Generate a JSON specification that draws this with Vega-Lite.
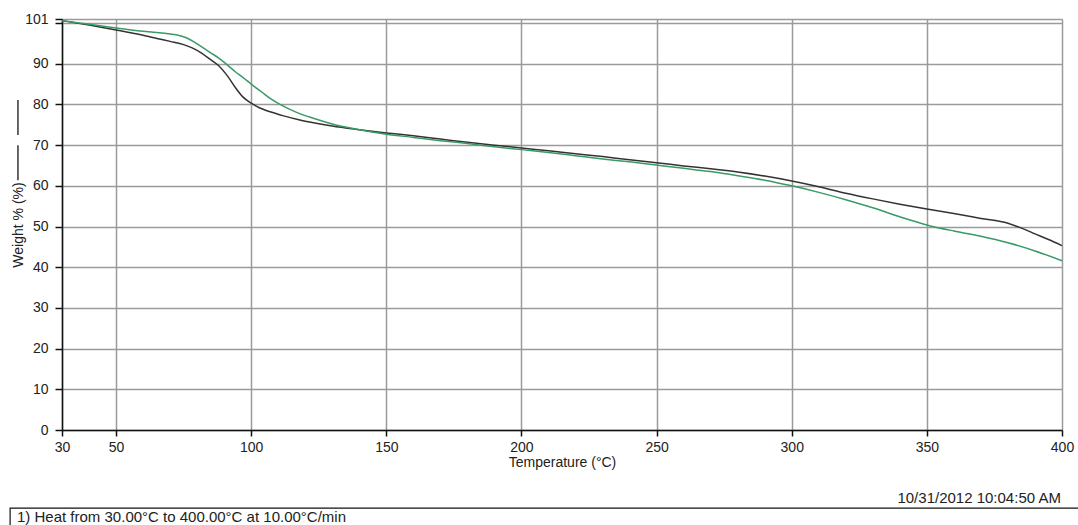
{
  "$schema": "https://vega.github.io/schema/vega-lite/v6.json",
  "width": 1000,
  "height": 411,
  "autosize": {"type": "none"},
  "padding": {"left": 62, "top": 19, "right": 16, "bottom": 95},
  "background": "white",
  "config": {
    "view": {"stroke": null},
    "font": "Liberation Sans",
    "axis": {
      "labelFont": "Liberation Sans",
      "titleFont": "Liberation Sans",
      "labelFontSize": 14,
      "titleFontSize": 14,
      "titleFontWeight": "normal",
      "labelColor": "#222",
      "titleColor": "#222",
      "gridColor": "#9a9a9a",
      "gridWidth": 1.5,
      "gridOpacity": 1,
      "domainColor": "#111",
      "domainWidth": 1.5,
      "tickColor": "#111",
      "tickWidth": 1.5,
      "labelOverlap": false
    }
  },
  "datasets": {
    "curves": [
      {"sample": "A", "temperature": 30, "weight": 100.6},
      {"sample": "A", "temperature": 40, "weight": 99.5},
      {"sample": "A", "temperature": 50, "weight": 98.3},
      {"sample": "A", "temperature": 60, "weight": 97.0},
      {"sample": "A", "temperature": 66, "weight": 96.1},
      {"sample": "A", "temperature": 70, "weight": 95.5},
      {"sample": "A", "temperature": 75, "weight": 94.7},
      {"sample": "A", "temperature": 80, "weight": 93.3},
      {"sample": "A", "temperature": 85, "weight": 91.0},
      {"sample": "A", "temperature": 88, "weight": 89.5},
      {"sample": "A", "temperature": 91, "weight": 87.2},
      {"sample": "A", "temperature": 94, "weight": 84.3},
      {"sample": "A", "temperature": 97, "weight": 81.8},
      {"sample": "A", "temperature": 100, "weight": 80.3},
      {"sample": "A", "temperature": 103, "weight": 79.2},
      {"sample": "A", "temperature": 107, "weight": 78.2},
      {"sample": "A", "temperature": 112, "weight": 77.2},
      {"sample": "A", "temperature": 118, "weight": 76.2},
      {"sample": "A", "temperature": 124, "weight": 75.4},
      {"sample": "A", "temperature": 130, "weight": 74.7},
      {"sample": "A", "temperature": 140, "weight": 73.8},
      {"sample": "A", "temperature": 150, "weight": 73.0},
      {"sample": "A", "temperature": 160, "weight": 72.3},
      {"sample": "A", "temperature": 170, "weight": 71.5},
      {"sample": "A", "temperature": 180, "weight": 70.7},
      {"sample": "A", "temperature": 190, "weight": 70.0},
      {"sample": "A", "temperature": 200, "weight": 69.3},
      {"sample": "A", "temperature": 210, "weight": 68.6},
      {"sample": "A", "temperature": 220, "weight": 67.9},
      {"sample": "A", "temperature": 230, "weight": 67.2},
      {"sample": "A", "temperature": 240, "weight": 66.4},
      {"sample": "A", "temperature": 250, "weight": 65.7},
      {"sample": "A", "temperature": 260, "weight": 64.9},
      {"sample": "A", "temperature": 270, "weight": 64.2},
      {"sample": "A", "temperature": 280, "weight": 63.4},
      {"sample": "A", "temperature": 290, "weight": 62.4},
      {"sample": "A", "temperature": 300, "weight": 61.2},
      {"sample": "A", "temperature": 310, "weight": 59.8},
      {"sample": "A", "temperature": 320, "weight": 58.2},
      {"sample": "A", "temperature": 330, "weight": 56.8},
      {"sample": "A", "temperature": 340, "weight": 55.5},
      {"sample": "A", "temperature": 350, "weight": 54.3},
      {"sample": "A", "temperature": 360, "weight": 53.2},
      {"sample": "A", "temperature": 370, "weight": 52.0},
      {"sample": "A", "temperature": 380, "weight": 50.8},
      {"sample": "A", "temperature": 385, "weight": 49.6},
      {"sample": "A", "temperature": 390, "weight": 48.2},
      {"sample": "A", "temperature": 395, "weight": 46.8},
      {"sample": "A", "temperature": 400, "weight": 45.3},
      {"sample": "B", "temperature": 30, "weight": 100.6},
      {"sample": "B", "temperature": 40, "weight": 99.7},
      {"sample": "B", "temperature": 50, "weight": 98.8},
      {"sample": "B", "temperature": 60, "weight": 98.0},
      {"sample": "B", "temperature": 66, "weight": 97.6},
      {"sample": "B", "temperature": 70, "weight": 97.3},
      {"sample": "B", "temperature": 73, "weight": 97.0},
      {"sample": "B", "temperature": 76, "weight": 96.4},
      {"sample": "B", "temperature": 79, "weight": 95.3},
      {"sample": "B", "temperature": 82, "weight": 94.0},
      {"sample": "B", "temperature": 85, "weight": 92.7},
      {"sample": "B", "temperature": 88, "weight": 91.4},
      {"sample": "B", "temperature": 91, "weight": 89.8},
      {"sample": "B", "temperature": 94, "weight": 88.1},
      {"sample": "B", "temperature": 97, "weight": 86.6},
      {"sample": "B", "temperature": 100, "weight": 85.0},
      {"sample": "B", "temperature": 104, "weight": 83.0},
      {"sample": "B", "temperature": 107, "weight": 81.5},
      {"sample": "B", "temperature": 111, "weight": 79.9},
      {"sample": "B", "temperature": 117, "weight": 78.0},
      {"sample": "B", "temperature": 123, "weight": 76.6},
      {"sample": "B", "temperature": 130, "weight": 75.2},
      {"sample": "B", "temperature": 140, "weight": 73.8},
      {"sample": "B", "temperature": 150, "weight": 72.7},
      {"sample": "B", "temperature": 160, "weight": 71.9},
      {"sample": "B", "temperature": 170, "weight": 71.1},
      {"sample": "B", "temperature": 180, "weight": 70.4},
      {"sample": "B", "temperature": 190, "weight": 69.6},
      {"sample": "B", "temperature": 200, "weight": 68.9},
      {"sample": "B", "temperature": 210, "weight": 68.2},
      {"sample": "B", "temperature": 220, "weight": 67.4},
      {"sample": "B", "temperature": 230, "weight": 66.6},
      {"sample": "B", "temperature": 240, "weight": 65.9},
      {"sample": "B", "temperature": 250, "weight": 65.1},
      {"sample": "B", "temperature": 260, "weight": 64.3},
      {"sample": "B", "temperature": 270, "weight": 63.5},
      {"sample": "B", "temperature": 280, "weight": 62.5},
      {"sample": "B", "temperature": 290, "weight": 61.4},
      {"sample": "B", "temperature": 300, "weight": 60.0},
      {"sample": "B", "temperature": 310, "weight": 58.4},
      {"sample": "B", "temperature": 320, "weight": 56.6},
      {"sample": "B", "temperature": 330, "weight": 54.6},
      {"sample": "B", "temperature": 340, "weight": 52.4},
      {"sample": "B", "temperature": 350, "weight": 50.4},
      {"sample": "B", "temperature": 360, "weight": 48.9},
      {"sample": "B", "temperature": 370, "weight": 47.6},
      {"sample": "B", "temperature": 380, "weight": 46.0},
      {"sample": "B", "temperature": 390, "weight": 44.0},
      {"sample": "B", "temperature": 400, "weight": 41.6}
    ]
  },
  "layer": [
    {
      "data": {"name": "curves"},
      "mark": {"type": "line", "strokeWidth": 1.5, "interpolate": "monotone"},
      "encoding": {
        "x": {
          "field": "temperature",
          "type": "quantitative",
          "scale": {"domain": [30, 400], "nice": false, "zero": false},
          "axis": {"title": "Temperature (°C)", "values": [30, 50, 100, 150, 200, 250, 300, 350, 400], "tickSize": 6, "labelPadding": 4, "titlePadding": 1, "labelFlush": false}
        },
        "y": {
          "field": "weight",
          "type": "quantitative",
          "scale": {"domain": [0, 101], "nice": false, "zero": true},
          "axis": {"title": "Weight % (%)", "values": [0, 10, 20, 30, 40, 50, 60, 70, 80, 90, 100, 101], "labelExpr": "datum.value == 100 ? '' : datum.label", "tickSize": 7, "labelPadding": 7, "titleX": -37, "titleBaseline": "bottom"}
        },
        "color": {
          "field": "sample",
          "type": "nominal",
          "scale": {"domain": ["B", "A"], "range": ["#3a9a66", "#333333"]},
          "legend": null
        },
        "order": {"field": "sample", "type": "nominal", "sort": "descending"}
      }
    },
    {
      "data": {"values": [{"seg": 1}]},
      "mark": {"type": "rule", "color": "#333", "strokeWidth": 1.5, "clip": false},
      "encoding": {
        "x": {"datum": 13.7, "type": "quantitative", "scale": {"domain": [30, 400], "nice": false, "zero": false}, "axis": {"title": "Temperature (°C)", "values": [30, 50, 100, 150, 200, 250, 300, 350, 400], "tickSize": 6, "labelPadding": 4, "titlePadding": 1, "labelFlush": false}},
        "y": {"datum": 81.1, "type": "quantitative", "scale": {"domain": [0, 101], "nice": false, "zero": true}, "axis": {"title": "Weight % (%)", "values": [0, 10, 20, 30, 40, 50, 60, 70, 80, 90, 100, 101], "labelExpr": "datum.value == 100 ? '' : datum.label", "tickSize": 7, "labelPadding": 7, "titleX": -37, "titleBaseline": "bottom"}},
        "y2": {"datum": 72.5}
      }
    },
    {
      "data": {"values": [{"seg": 2}]},
      "mark": {"type": "rule", "color": "#333", "strokeWidth": 1.5, "clip": false},
      "encoding": {
        "x": {"datum": 13.7, "type": "quantitative", "scale": {"domain": [30, 400], "nice": false, "zero": false}, "axis": {"title": "Temperature (°C)", "values": [30, 50, 100, 150, 200, 250, 300, 350, 400], "tickSize": 6, "labelPadding": 4, "titlePadding": 1, "labelFlush": false}},
        "y": {"datum": 70.0, "type": "quantitative", "scale": {"domain": [0, 101], "nice": false, "zero": true}, "axis": {"title": "Weight % (%)", "values": [0, 10, 20, 30, 40, 50, 60, 70, 80, 90, 100, 101], "labelExpr": "datum.value == 100 ? '' : datum.label", "tickSize": 7, "labelPadding": 7, "titleX": -37, "titleBaseline": "bottom"}},
        "y2": {"datum": 61.4}
      }
    },
    {
      "data": {"values": [{"box": 1}]},
      "mark": {"type": "rect", "fill": null, "fillOpacity": 0, "stroke": "#111", "strokeWidth": 1.2, "clip": false},
      "encoding": {
        "x": {"datum": 10.8, "type": "quantitative", "scale": {"domain": [30, 400], "nice": false, "zero": false}, "axis": {"title": "Temperature (°C)", "values": [30, 50, 100, 150, 200, 250, 300, 350, 400], "tickSize": 6, "labelPadding": 4, "titlePadding": 1, "labelFlush": false}},
        "x2": {"datum": 420},
        "y": {"datum": -19.2, "type": "quantitative", "scale": {"domain": [0, 101], "nice": false, "zero": true}, "axis": {"title": "Weight % (%)", "values": [0, 10, 20, 30, 40, 50, 60, 70, 80, 90, 100, 101], "labelExpr": "datum.value == 100 ? '' : datum.label", "tickSize": 7, "labelPadding": 7, "titleX": -37, "titleBaseline": "bottom"}},
        "y2": {"datum": -40}
      }
    },
    {
      "data": {"values": [{"note": "10/31/2012 10:04:50 AM"}]},
      "mark": {"type": "text", "align": "right", "baseline": "middle", "fontSize": 15, "color": "#222", "font": "Liberation Sans"},
      "encoding": {
        "x": {"datum": 399.6, "type": "quantitative", "scale": {"domain": [30, 400], "nice": false, "zero": false}, "axis": {"title": "Temperature (°C)", "values": [30, 50, 100, 150, 200, 250, 300, 350, 400], "tickSize": 6, "labelPadding": 4, "titlePadding": 1, "labelFlush": false}},
        "y": {"datum": -16.7, "type": "quantitative", "scale": {"domain": [0, 101], "nice": false, "zero": true}, "axis": {"title": "Weight % (%)", "values": [0, 10, 20, 30, 40, 50, 60, 70, 80, 90, 100, 101], "labelExpr": "datum.value == 100 ? '' : datum.label", "tickSize": 7, "labelPadding": 7, "titleX": -37, "titleBaseline": "bottom"}},
        "text": {"field": "note"}
      }
    },
    {
      "data": {"values": [{"note": "1)  Heat from 30.00°C to 400.00°C at 10.00°C/min"}]},
      "mark": {"type": "text", "align": "left", "baseline": "middle", "fontSize": 15, "color": "#222", "font": "Liberation Sans"},
      "encoding": {
        "x": {"datum": 13.35, "type": "quantitative", "scale": {"domain": [30, 400], "nice": false, "zero": false}, "axis": {"title": "Temperature (°C)", "values": [30, 50, 100, 150, 200, 250, 300, 350, 400], "tickSize": 6, "labelPadding": 4, "titlePadding": 1, "labelFlush": false}},
        "y": {"datum": -21.4, "type": "quantitative", "scale": {"domain": [0, 101], "nice": false, "zero": true}, "axis": {"title": "Weight % (%)", "values": [0, 10, 20, 30, 40, 50, 60, 70, 80, 90, 100, 101], "labelExpr": "datum.value == 100 ? '' : datum.label", "tickSize": 7, "labelPadding": 7, "titleX": -37, "titleBaseline": "bottom"}},
        "text": {"field": "note"}
      }
    }
  ]
}
